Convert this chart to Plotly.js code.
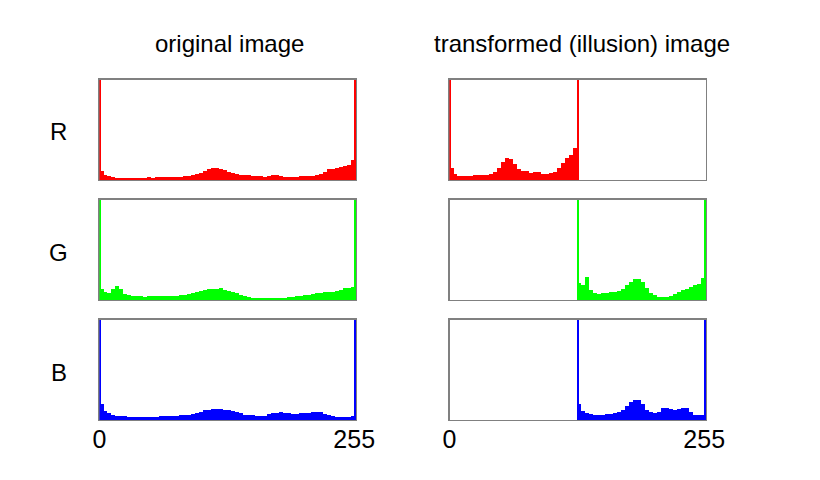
<!DOCTYPE html>
<html>
<head>
<meta charset="utf-8">
<script src="https://cdn.plot.ly/plotly-3.0.1.min.js"></script>
<style>html,body{margin:0;padding:0;background:#fff;}#chart{width:820px;height:480px;}</style>
</head>
<body>
<div id="chart"></div>
<script>
// Histogram heights (percent of panel height), one value per group of 4 intensity bins
var origR = [9,5,4,3,2,2,2,2,2,2,2,2,3,2,3,3,3,3,3,3,3,4,4,5,6,7,9,11,12,12,11,10,8,7,6,5,5,5,4,4,4,3,4,5,5,4,3,3,3,3,4,4,4,4,5,6,8,11,11,12,13,14,15,20];
var origG = [11,8,7,11,14,11,6,5,4,4,4,3,4,4,4,4,4,4,4,4,5,5,6,7,8,9,10,11,11,11,12,10,9,8,7,5,4,3,2,2,2,2,2,2,2,2,2,3,3,4,4,5,5,6,7,7,8,8,8,9,10,12,12,13];
var origB = [16,9,7,5,4,4,4,3,3,3,3,3,3,3,3,4,4,4,4,4,5,5,5,6,7,8,10,10,11,11,11,10,10,9,8,7,5,5,5,4,4,4,6,7,7,8,7,7,6,6,7,7,7,8,8,8,6,5,4,3,3,3,3,4];
// transformed: R squeezed into bins 0-127, G and B into bins 128-255
var transR = [12,6,4,4,4,4,5,5,5,5,6,8,12,18,22,21,16,11,9,9,7,8,8,6,6,7,8,12,17,22,25,32];
var transG = [17,15,23,10,7,6,7,7,8,8,9,11,15,18,21,21,18,12,7,5,3,3,3,4,6,8,10,11,13,15,16,22];
var transB = [16,9,7,6,5,5,5,6,6,7,8,10,14,18,20,20,16,10,8,7,8,12,12,11,10,11,12,12,8,5,5,5];
// single-bin spikes: [bin, height]
var spikesOrig = [[0,100],[255,100]];
var spikesTransR = [[0,100],[128,100]];
var spikesTransGB = [[128,100],[255,100]];
var tickVals = [0,255];
var tickText = ['0','255'];
var colR = '#ff0000', colG = '#00ff00', colB = '#0000ff';

function groupTrace(vals, startBin, color, xa, ya){
  var x = [], w = [];
  for (var i=0;i<vals.length;i++){ x.push(startBin + i*4 + 2); w.push(4); }
  return {type:'bar', x:x, y:vals, width:w, marker:{color:color, line:{width:0}},
          xaxis:xa, yaxis:ya, hoverinfo:'skip', showlegend:false};
}
function spikeTrace(sp, color, xa, ya){
  return {type:'bar', x:sp.map(function(s){return s[0]+0.5;}), y:sp.map(function(s){return s[1];}),
          width:sp.map(function(){return 1.6;}), marker:{color:color, line:{width:0}},
          xaxis:xa, yaxis:ya, hoverinfo:'skip', showlegend:false};
}

var data = [
  groupTrace(origR,0,colR,'x','y'), spikeTrace(spikesOrig,colR,'x','y'),
  groupTrace(transR,0,colR,'x2','y2'), spikeTrace(spikesTransR,colR,'x2','y2'),
  groupTrace(origG,0,colG,'x3','y3'), spikeTrace(spikesOrig,colG,'x3','y3'),
  groupTrace(transG,128,colG,'x4','y4'), spikeTrace(spikesTransGB,colG,'x4','y4'),
  groupTrace(origB,0,colB,'x5','y5'), spikeTrace(spikesOrig,colB,'x5','y5'),
  groupTrace(transB,128,colB,'x6','y6'), spikeTrace(spikesTransGB,colB,'x6','y6')
];

var W=820, H=480;
var colDom = [[99.5/W,356/W],[449.5/W,706/W]];
var rowDom = [[1-420/H,1-319.5/H],[1-300/H,1-199.5/H],[1-180/H,1-79.5/H]]; // bottom, middle, top
function xax(dom, anchor, showTicks){
  return {domain:dom, anchor:anchor, range:[0,256.8], showgrid:false, zeroline:false,
          showline:true, mirror:true, linecolor:'#808080', linewidth:1.2, layer:'above traces',
          ticks:'', tickmode:'array', tickvals:tickVals, ticktext:tickText, ticklabelstandoff:-3,
          showticklabels:showTicks, tickfont:{family:'Liberation Sans, Arial', size:25, color:'#000'},
          fixedrange:true};
}
function yax(dom, anchor){
  return {domain:dom, anchor:anchor, range:[0,100], showgrid:false, zeroline:false,
          showline:true, mirror:true, linecolor:'#808080', linewidth:1.2, layer:'below traces',
          ticks:'', showticklabels:false, fixedrange:true};
}
var tfont = {family:'Liberation Sans, Arial', size:24, color:'#000'};
var layout = {
  width:W, height:H, margin:{l:0,r:0,t:0,b:0}, paper_bgcolor:'#fff', plot_bgcolor:'#fff',
  barmode:'overlay', bargap:0, showlegend:false,
  xaxis: xax(colDom[0],'y',false),  yaxis: yax(rowDom[2],'x'),
  xaxis2:xax(colDom[1],'y2',false), yaxis2:yax(rowDom[2],'x2'),
  xaxis3:xax(colDom[0],'y3',false), yaxis3:yax(rowDom[1],'x3'),
  xaxis4:xax(colDom[1],'y4',false), yaxis4:yax(rowDom[1],'x4'),
  xaxis5:xax(colDom[0],'y5',true),  yaxis5:yax(rowDom[0],'x5'),
  xaxis6:xax(colDom[1],'y6',true),  yaxis6:yax(rowDom[0],'x6'),
  annotations:[
    {text:'original image', xref:'paper', yref:'paper', x:229/W, y:1-43/H, showarrow:false, font:tfont, xanchor:'center', yanchor:'middle'},
    {text:'transformed (illusion) image', xref:'paper', yref:'paper', x:582/W, y:1-43/H, showarrow:false, font:tfont, xanchor:'center', yanchor:'middle'},
    {text:'R', xref:'paper', yref:'paper', x:59/W, y:1-131/H, showarrow:false, font:tfont, xanchor:'center', yanchor:'middle'},
    {text:'G', xref:'paper', yref:'paper', x:59/W, y:1-252/H, showarrow:false, font:tfont, xanchor:'center', yanchor:'middle'},
    {text:'B', xref:'paper', yref:'paper', x:59/W, y:1-372/H, showarrow:false, font:tfont, xanchor:'center', yanchor:'middle'}
  ]
};
Plotly.newPlot('chart', data, layout, {staticPlot:true, displayModeBar:false});
</script>
</body>
</html>
